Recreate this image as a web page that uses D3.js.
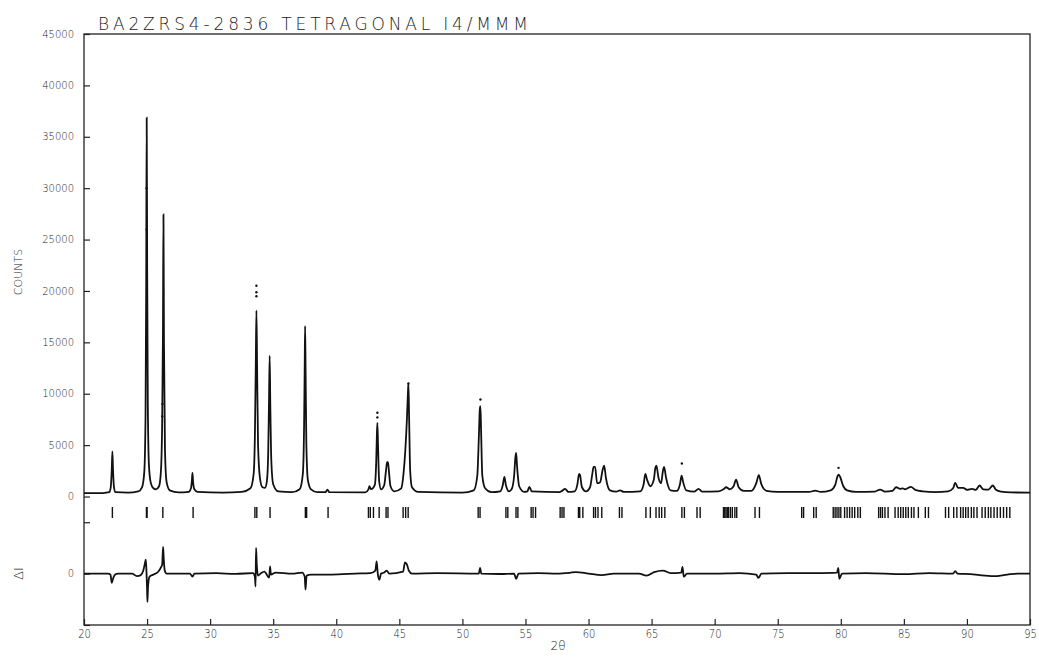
<!DOCTYPE html>
<html>
<head>
<meta charset="utf-8">
<script src="https://cdn.jsdelivr.net/npm/d3@7"></script>
<style>
    body { margin: 0; background: #fff; }
    #chart text { fill: #222; font-family: 'DejaVu Sans', sans-serif; font-weight: 200; }
</style>
</head>
<body>
<div id="chart"></div>
<script>
const title = 'BA2ZRS4-2836 TETRAGONAL I4/MMM';
const xTicks = [20, 25, 30, 35, 40, 45, 50, 55, 60, 65, 70, 75, 80, 85, 90, 95];
const countTicks = [0, 5000, 10000, 15000, 20000, 25000, 30000, 35000, 40000, 45000];
const diffTicks = [-5000, 0, 5000];

// profile: [2theta, counts]
const profile = [
    [20.0, 330], [21.5, 340], [22.0, 420], [22.12, 900], [22.2, 2600], [22.25, 4400], [22.3, 2600], [22.38, 900], [22.5, 420],
    [23.5, 380], [24.3, 500], [24.6, 900], [24.78, 2400], [24.88, 8000], [24.93, 20000], [24.97, 36850], [25.01, 22000],
    [25.06, 9000], [25.15, 3000], [25.3, 1300], [25.5, 800], [25.7, 700], [25.95, 1000], [26.1, 2500], [26.2, 7500],
    [26.26, 16000], [26.3, 27440], [26.34, 15000], [26.42, 4500], [26.55, 1400], [26.8, 600], [27.5, 400],
    [28.3, 450], [28.48, 800], [28.55, 1500], [28.6, 2300], [28.65, 1400], [28.75, 700], [29.0, 450], [31.0, 380],
    [32.5, 450], [33.2, 800], [33.45, 2200], [33.55, 6000], [33.62, 13000], [33.67, 18100], [33.72, 13000], [33.8, 5000],
    [33.95, 1800], [34.15, 900], [34.35, 850], [34.5, 1500], [34.6, 4000], [34.67, 9500], [34.72, 13700], [34.77, 9000],
    [34.85, 3500], [35.0, 1200], [35.4, 500], [36.5, 420], [37.1, 700], [37.35, 2200], [37.45, 7000], [37.5, 13000],
    [37.53, 16570], [37.57, 12000], [37.63, 5000], [37.75, 1600], [38.0, 700], [38.5, 420], [39.15, 420], [39.3, 680],
    [39.45, 420], [42.3, 400], [42.55, 700], [42.63, 1000], [42.75, 700], [43.05, 1100], [43.17, 3500], [43.22, 6000],
    [43.26, 7170], [43.31, 5000], [43.4, 1500], [43.55, 700], [43.8, 1100], [43.95, 2600], [44.03, 3340], [44.1, 3340],
    [44.17, 2500], [44.3, 1000], [44.6, 500], [45.15, 800], [45.33, 2200], [45.47, 4400], [45.6, 7500], [45.68, 10000],
    [45.72, 11000], [45.77, 8000], [45.86, 2500], [46.0, 900], [46.5, 450], [50.0, 380], [50.9, 600], [51.18, 2000],
    [51.31, 6000], [51.38, 8500], [51.43, 8790], [51.48, 6500], [51.58, 2000], [51.8, 800], [52.3, 420], [53.0, 500],
    [53.2, 1100], [53.33, 1900], [53.45, 1100], [53.7, 500], [53.9, 700], [54.1, 2000], [54.2, 3800], [54.26, 4250],
    [54.33, 3000], [54.5, 1000], [54.9, 450], [55.15, 500], [55.31, 940], [55.5, 500], [57.7, 420], [57.9, 550],
    [58.14, 750], [58.4, 450], [58.9, 500], [59.12, 1200], [59.25, 2200], [59.32, 2100], [59.48, 900], [59.8, 500],
    [60.12, 900], [60.3, 2200], [60.4, 2890], [60.52, 2890], [60.68, 1300], [60.92, 1400], [61.12, 2600], [61.24, 3000],
    [61.38, 1800], [61.7, 600], [62.2, 480], [62.5, 600], [62.8, 450], [64.1, 500], [64.37, 1200], [64.5, 2200],
    [64.65, 1600], [64.9, 1000], [65.17, 1600], [65.3, 2800], [65.38, 3000], [65.55, 1800], [65.75, 1300], [65.9, 2500],
    [65.99, 2890], [66.15, 1800], [66.5, 600], [67.0, 550], [67.25, 1200], [67.38, 2040], [67.5, 1400], [67.75, 600],
    [68.4, 480], [68.72, 750], [69.0, 480], [70.3, 500], [70.7, 700], [70.91, 900], [71.2, 700], [71.5, 1000],
    [71.7, 1650], [71.9, 900], [72.3, 550], [72.9, 550], [73.3, 1300], [73.5, 2080], [73.7, 1200], [74.1, 550],
    [75.0, 450], [77.5, 450], [77.97, 580], [78.4, 450], [79.2, 600], [79.55, 1100], [79.75, 2000], [79.82, 2140],
    [79.95, 1900], [80.2, 1000], [80.5, 600], [81.2, 450], [82.7, 480], [83.12, 680], [83.5, 480], [84.1, 550],
    [84.39, 900], [84.7, 750], [84.9, 800], [85.1, 700], [85.56, 940], [85.9, 650], [86.5, 500], [87.5, 420],
    [88.5, 500], [88.9, 800], [89.07, 1330], [89.3, 850], [89.7, 850], [90.0, 650], [90.4, 750], [90.7, 650],
    [91.0, 1070], [91.3, 700], [91.7, 680], [92.06, 1070], [92.3, 650], [92.7, 480], [93.5, 400], [95.0, 380]
];

// observed points that stand clear of the calculated line
const obsDots = [
    [24.96, 30000], [24.97, 26000], [26.2, 7800], [26.22, 9000], [33.67, 20500], [33.67, 19880], [33.67, 19490],
    [43.26, 8150], [43.26, 7700], [51.43, 9440], [67.4, 3210], [79.82, 2790], [45.72, 11000]
];

const reflections = [
    22.25, 24.95, 25.0, 26.25, 28.65, 33.55, 33.7, 34.75, 37.55, 37.65, 39.35, 42.55, 42.7, 42.95, 43.4, 43.95,
    44.1, 45.3, 45.5, 45.7, 51.25, 51.4, 53.45, 53.6, 54.25, 54.4, 55.45, 55.6, 55.8, 57.75, 57.9, 58.05, 59.2,
    59.3, 59.55, 60.4, 60.55, 60.75, 61.05, 62.45, 62.65, 64.55, 64.9, 65.35, 65.6, 65.8, 66.05, 67.4, 67.6, 68.6,
    68.85, 70.7, 70.8, 70.9, 71.0, 71.1, 71.25, 71.4, 71.6, 71.75, 73.2, 73.55, 76.9, 77.05, 77.85, 78.05, 79.4,
    79.55, 79.7, 79.85, 80.0, 80.3, 80.5, 80.7, 80.9, 81.1, 81.35, 81.55, 83.0, 83.15, 83.3, 83.5, 83.75, 84.3,
    84.55, 84.75, 84.95, 85.15, 85.35, 85.6, 85.8, 86.15, 86.7, 86.95, 88.3, 88.55, 88.95, 89.2, 89.5, 89.7, 89.9,
    90.1, 90.35, 90.55, 90.8, 91.2, 91.45, 91.7, 91.9, 92.15, 92.4, 92.65, 92.9, 93.15, 93.4
];

// obs - calc: [2theta, deltaI]
const diff = [
    [20, 0], [21.9, 0], [22.1, -100], [22.2, -900], [22.3, -500], [22.45, -100], [22.7, 0], [23.8, 0], [24.2, -250],
    [24.5, -150], [24.7, 300], [24.85, 1100], [24.9, 1350], [24.95, 300], [25.0, -1500], [25.03, -2750], [25.08, -1200],
    [25.2, -300], [25.5, -100], [25.9, 200], [26.1, 600], [26.2, 900], [26.27, 2600], [26.32, 1500], [26.4, 300],
    [26.55, 0], [28.4, 0], [28.6, -300], [28.75, 0], [30.5, 40], [32.0, -30], [33.4, 50], [33.55, -300], [33.6, -1250],
    [33.64, 2500], [33.7, 800], [33.8, -200], [34.0, 0], [34.3, 200], [34.68, -400], [34.75, 700], [34.82, -100],
    [35.2, 100], [36.5, 0], [37.3, 100], [37.5, -300], [37.56, -1550], [37.65, -200], [38.0, -100], [39.3, -100],
    [40.5, -50], [41.5, 0], [42.7, 50], [43.1, 300], [43.2, 1200], [43.3, -100], [43.42, -600], [43.55, 0], [43.8, 100],
    [44.0, 300], [44.2, 0], [45.3, 200], [45.45, 1100], [45.6, 900], [45.75, 300], [46.0, 0], [48.0, 40], [51.3, 0],
    [51.4, 550], [51.5, 0], [53.0, -40], [54.1, 0], [54.26, -520], [54.45, 0], [56.0, 40], [57.5, 0], [58.5, 80],
    [59.0, 150], [60.0, 0], [61.05, -150], [62.0, 0], [64.0, 0], [64.6, -200], [65.2, 150], [65.9, 300], [66.5, 50],
    [67.35, 100], [67.45, 650], [67.55, -300], [67.8, 0], [70.0, 0], [72.0, 50], [73.3, -100], [73.47, -420],
    [73.7, 0], [76.0, 40], [78.0, 50], [79.7, 100], [79.8, 560], [79.88, -500], [80.1, 0], [82.0, 50], [85.0, -50],
    [87.0, 50], [88.9, 0], [89.07, 250], [89.25, 0], [90.3, -50], [91.0, -150], [92.1, -250], [93.2, -100],
    [94.0, 0], [95.0, 0]
];

const createChart = () => {
    const width = 1039;
    const height = 660;
    const left = 84, right = 1030, top = 34, bottom = 625;

    const svg = d3.select('#chart')
        .append('svg')
        .attr('width', width)
        .attr('height', height);

    const x = d3.scaleLinear()
        .domain([20, 95])
        .range([left, right]);

    const y = d3.scaleLinear()
        .domain([-12500, 45000])
        .range([bottom, top]);

    const yDiff = d3.scaleLinear()
        .domain([-5000, 5000])
        .range([bottom, y(-2500)]);

    svg.append('rect')
        .attr('x', left)
        .attr('y', top)
        .attr('width', right - left)
        .attr('height', bottom - top)
        .attr('fill', 'none')
        .attr('stroke', '#222')
        .attr('stroke-width', 1.3);

    svg.append('g')
        .attr('transform', `translate(${left},0)`)
        .attr('font-size', '11px')
        .call(d3.axisLeft(y).tickValues(countTicks).tickFormat(d3.format('d')).tickSize(-6).tickPadding(10))
        .call(g => g.select('.domain').remove());

    svg.append('g')
        .attr('transform', `translate(${left},0)`)
        .attr('font-size', '11px')
        .call(d3.axisLeft(yDiff).tickValues(diffTicks).tickFormat(d => d === 0 ? '0' : '').tickSize(-6).tickPadding(10))
        .call(g => g.select('.domain').remove());

    svg.append('g')
        .attr('transform', `translate(0,${bottom})`)
        .attr('font-size', '13px')
        .call(d3.axisBottom(x).tickValues(xTicks).tickSize(-6).tickPadding(4))
        .call(g => g.select('.domain').remove())
        .selectAll('text')
        .attr('font-family', "'Liberation Sans Narrow', 'DejaVu Sans Condensed', sans-serif")
        .attr('transform', 'scale(1,1.15)');

    svg.selectAll('.tick line').attr('stroke', '#222').attr('stroke-width', 1.2);
    svg.selectAll('.tick text').attr('fill', '#222');

    svg.append('text')
        .attr('x', 98)
        .attr('y', 30)
        .attr('font-size', '17px')
        .attr('font-family', "'DejaVu Sans Mono', monospace")
        .attr('textLength', 430)
        .attr('lengthAdjust', 'spacing')
        .text(title);

    svg.append('text')
        .attr('transform', 'translate(22,272) rotate(-90)')
        .attr('text-anchor', 'middle')
        .attr('font-size', '11px')
        .text('COUNTS');

    svg.append('text')
        .attr('transform', `translate(23,${yDiff(0)}) rotate(-90)`)
        .attr('text-anchor', 'middle')
        .attr('font-size', '13px')
        .text('ΔI');

    svg.append('text')
        .attr('x', 558)
        .attr('y', 650)
        .attr('text-anchor', 'middle')
        .attr('font-size', '12px')
        .text('2θ');

    const line = d3.line()
        .x(d => x(d[0]))
        .y(d => y(d[1]))
        .curve(d3.curveMonotoneX);

    svg.append('path')
        .datum(profile)
        .attr('fill', 'none')
        .attr('stroke', '#111')
        .attr('stroke-width', 1.8)
        .attr('d', line);

    svg.append('g')
        .attr('fill', '#111')
        .selectAll('circle')
        .data(obsDots)
        .join('circle')
        .attr('cx', d => x(d[0]))
        .attr('cy', d => y(d[1]))
        .attr('r', 1.2);

    svg.append('g')
        .attr('stroke', '#111')
        .attr('stroke-width', 1.4)
        .selectAll('line')
        .data(reflections)
        .join('line')
        .attr('x1', d => x(d))
        .attr('x2', d => x(d))
        .attr('y1', 507)
        .attr('y2', 518);

    const diffLine = d3.line()
        .x(d => x(d[0]))
        .y(d => yDiff(d[1]))
        .curve(d3.curveMonotoneX);

    svg.append('path')
        .datum(diff)
        .attr('fill', 'none')
        .attr('stroke', '#111')
        .attr('stroke-width', 1.8)
        .attr('d', diffLine);
};

createChart();
</script>
</body>
</html>
